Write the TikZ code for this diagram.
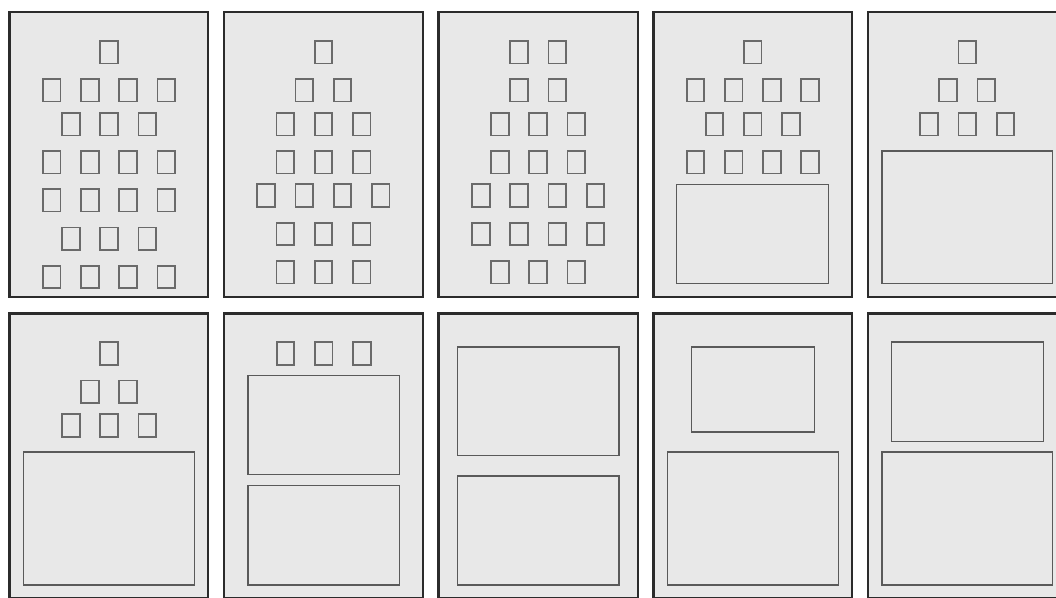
\documentclass[tikz,border=0pt]{standalone}
\usetikzlibrary{fit}
\definecolor{panelfill}{HTML}{E8E8E8}
\definecolor{panelline}{HTML}{2B2B2B}
\definecolor{sqline}{HTML}{6A6A6A}
\definecolor{bigline}{HTML}{5A5A5A}
\tikzset{
  panelbox/.style={draw=panelline, fill=panelfill, line width=2.2pt, inner sep=0pt, outer sep=0pt},
  sq/.style={draw=sqline, line width=1.8pt, inner sep=0pt, outer sep=0pt, minimum width=17.6pt, minimum height=22.4pt},
  bigbox/.style={draw=bigline, line width=1.4pt, inner sep=0pt, outer sep=0pt},
}
\newcommand\sqrow[4]{\foreach \i in {1,...,#4}{\node[sq] (#1-\i) at ({#2+(\i-(#4+1)/2)*38.2}, #3) {};}}
\newcommand\rbox[6]{\node[#2, fit={(#3,#4) (#5,#6)}] (#1) {};}
\begin{document}
\begin{tikzpicture}[x=1pt, y=-1pt]
\useasboundingbox (0,0) rectangle (1056,597);
\clip (0,0) rectangle (1056,597);
\fill[white] (0,0) rectangle (1056,597);
% panels, top row
\rbox{p1}{panelbox}{9.4}{12.1}{208.2}{296.9}
\rbox{p2}{panelbox}{223.8}{12.1}{422.6}{296.9}
\rbox{p3}{panelbox}{438.4}{12.1}{637.7}{296.9}
\rbox{p4}{panelbox}{653.4}{12.1}{851.6}{296.9}
\rbox{p5}{panelbox}{867.8}{12.1}{1066.7}{296.9}
% panels, bottom row
\rbox{p6}{panelbox}{9.4}{313.4}{208.2}{598.3}
\rbox{p7}{panelbox}{223.8}{313.4}{422.6}{598.3}
\rbox{p8}{panelbox}{438.4}{313.4}{637.7}{598.3}
\rbox{p9}{panelbox}{653.4}{313.4}{851.6}{598.3}
\rbox{p10}{panelbox}{867.8}{313.4}{1066.7}{598.3}
% panel 1
\sqrow{a1}{109}{52.2}{1}
\sqrow{a2}{109}{90.3}{4}
\sqrow{a3}{109}{124.3}{3}
\sqrow{a4}{109}{162.2}{4}
\sqrow{a5}{109}{200.3}{4}
\sqrow{a6}{109}{238.7}{3}
\sqrow{a7}{109}{277}{4}
% panel 2
\sqrow{b1}{323.4}{52.2}{1}
\sqrow{b2}{323.4}{90.3}{2}
\sqrow{b3}{323.4}{124.3}{3}
\sqrow{b4}{323.4}{162.2}{3}
\sqrow{b5}{323.4}{195.5}{4}
\sqrow{b6}{323.4}{233.8}{3}
\sqrow{b7}{323.4}{272.2}{3}
% panel 3
\sqrow{c1}{538.1}{52.2}{2}
\sqrow{c2}{538.1}{90.3}{2}
\sqrow{c3}{538.1}{124.3}{3}
\sqrow{c4}{538.1}{162.2}{3}
\sqrow{c5}{538.1}{195.5}{4}
\sqrow{c6}{538.1}{233.8}{4}
\sqrow{c7}{538.1}{272.2}{3}
% panel 4
\sqrow{d1}{752.7}{52.2}{1}
\sqrow{d2}{752.7}{90.3}{4}
\sqrow{d3}{752.7}{124.3}{3}
\sqrow{d4}{752.7}{162.2}{4}
\rbox{d5}{bigbox}{676.6}{184.3}{828.7}{283.7}
% panel 5
\sqrow{e1}{967.2}{52.2}{1}
\sqrow{e2}{967.2}{90.3}{2}
\sqrow{e3}{967.2}{124.3}{3}
\rbox{e4}{bigbox}{881.9}{150.9}{1052.7}{283.7}
% panel 6
\sqrow{f1}{109}{353.5}{1}
\sqrow{f2}{109}{391.7}{2}
\sqrow{f3}{109}{425.4}{3}
\rbox{f4}{bigbox}{23.3}{451.9}{194.7}{585.1}
% panel 7
\sqrow{g1}{323.7}{353.5}{3}
\rbox{g2}{bigbox}{247.9}{375.6}{399.7}{474.7}
\rbox{g3}{bigbox}{247.9}{485.6}{399.7}{585.1}
% panel 8
\rbox{h1}{bigbox}{457.6}{346.9}{619.1}{455.4}
\rbox{h2}{bigbox}{457.6}{475.9}{619.1}{585.1}
% panel 9
\rbox{i1}{bigbox}{691.3}{346.9}{814.7}{432.1}
\rbox{i2}{bigbox}{667.3}{451.9}{838.4}{585.1}
% panel 10
\rbox{j1}{bigbox}{891.6}{341.9}{1043.4}{441.7}
\rbox{j2}{bigbox}{881.9}{451.9}{1052.7}{585.1}
\end{tikzpicture}
\end{document}
